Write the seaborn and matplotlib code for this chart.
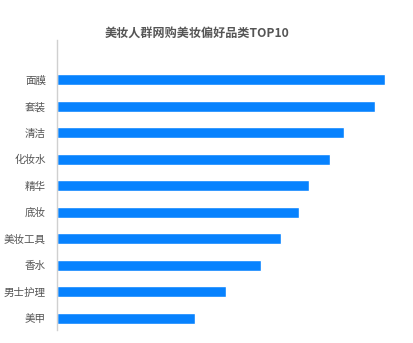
import matplotlib
matplotlib.use("Agg")
import matplotlib.pyplot as plt
import seaborn as sns
import pandas as pd

categories = ["面膜", "套装", "清洁", "化妆水", "精华", "底妆", "美妆工具", "香水", "男士护理", "美甲"]
values = [328, 318, 287, 273, 252, 242, 224, 204, 169, 138]

sns.set_theme(style="white")
plt.rcParams['font.family'] = ['Noto Sans CJK SC', 'DejaVu Sans']

df = pd.DataFrame({"category": categories, "value": values})

fig = plt.figure(figsize=(4.13, 3.43), dpi=100)
ax = fig.add_axes([57/413, 1 - 330/343, (400-57)/413, (330-40)/343])
sns.barplot(data=df, x="value", y="category", orient="h", color="#0782FE",
            saturation=1, width=0.42, ax=ax)
ax.set_xlim(0, 343)
ax.set_ylim(9.45, -1.5)
ax.set_xlabel("")
ax.set_ylabel("")
ax.set_xticks([])
for s in ["top", "right", "bottom"]:
    ax.spines[s].set_visible(False)
ax.spines["left"].set_color("#d0d0d0")
ax.spines["left"].set_linewidth(1)
ax.tick_params(axis="y", length=0, pad=8, labelsize=7.6, labelcolor="#555555")
fig.text(197/413, 1 - 33/343, "美妆人群网购美妆偏好品类TOP10", ha="center", va="center",
         fontsize=8.7, fontweight="bold", color="#555555")
fig.savefig("out.png", dpi=100)
